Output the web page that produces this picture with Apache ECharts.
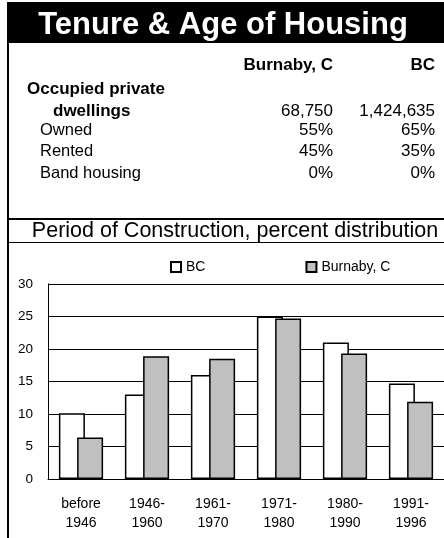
<!DOCTYPE html>
<html>
<head>
<meta charset="utf-8">
<script src="https://cdn.jsdelivr.net/npm/echarts@6/dist/echarts.min.js"></script>
<style>
html,body{margin:0;padding:0;background:#fff;}
#chart{width:444px;height:538px;}
</style>
</head>
<body>
<div id="chart"></div>
<script>
// ---- data ----
var titleText = 'Tenure & Age of Housing';
var tableHeaders = ['Burnaby, C', 'BC'];
var tableRowLabels = ['Owned', 'Rented', 'Band housing'];
var burnabyTable = ['68,750', '55%', '45%', '0%'];
var bcTable = ['1,424,635', '65%', '35%', '0%'];
var chartTitle = 'Period of Construction, percent distribution';
var categories = ['before\n1946', '1946-\n1960', '1961-\n1970', '1971-\n1980', '1980-\n1990', '1991-\n1996'];
var bcValues = [10.1, 13.0, 16.0, 25.0, 21.0, 14.7];
var burnabyValues = [6.4, 18.9, 18.5, 24.7, 19.3, 11.9];
var seriesNames = ['BC', 'Burnaby, C'];

var FONT = '"Liberation Sans", Arial, sans-serif';
var chart = echarts.init(document.getElementById('chart'));

function txt(s, x, y, size, bold, align, color) {
  return {
    type: 'text', x: x, y: y, silent: true,
    style: {
      text: s, fill: color || '#000',
      font: (bold ? 'bold ' : '') + size + 'px ' + FONT,
      textAlign: align || 'left', textVerticalAlign: 'middle'
    }
  };
}

var col1 = 333, col2 = 435;
var rowY = [111, 130, 151, 173];
var graphics = [
  { type: 'rect', shape: { x: 7, y: 2, width: 437, height: 41 }, style: { fill: '#000' }, silent: true },
  { type: 'rect', shape: { x: 7, y: 2, width: 2, height: 536 }, style: { fill: '#000' }, silent: true },
  { type: 'rect', shape: { x: 7, y: 218, width: 437, height: 2 }, style: { fill: '#000' }, silent: true },
  { type: 'rect', shape: { x: 7, y: 242, width: 437, height: 1 }, style: { fill: '#000' }, silent: true },
  txt(titleText, 223, 25, 31, true, 'center', '#fff'),
  txt(tableHeaders[0], col1, 65, 17, true, 'right'),
  txt(tableHeaders[1], col2, 65, 17, true, 'right'),
  txt('Occupied private', 27, 89, 17, true, 'left'),
  txt('dwellings', 53, rowY[0], 17, true, 'left'),
  txt(chartTitle, 235, 231, 21.5, false, 'center')
];
for (var i = 0; i < tableRowLabels.length; i++) {
  graphics.push(txt(tableRowLabels[i], 40, rowY[i + 1], 16.5, false, 'left'));
}
for (var j = 0; j < rowY.length; j++) {
  graphics.push(txt(burnabyTable[j], col1, rowY[j], 17, false, 'right'));
  graphics.push(txt(bcTable[j], col2, rowY[j], 17, false, 'right'));
}

chart.setOption({
  animation: false,
  textStyle: { fontFamily: FONT },
  graphic: graphics,
  legend: {
    left: 170, top: 260, padding: 0,
    itemWidth: 10, itemHeight: 10, itemGap: 100,
    icon: 'rect',
    textStyle: { fontSize: 14, color: '#000', fontFamily: FONT },
    data: seriesNames
  },
  grid: { left: 48, top: 284, width: 400, height: 195, containLabel: false },
  xAxis: {
    type: 'category', data: categories,
    axisLine: { lineStyle: { color: '#000', width: 1 } },
    axisTick: { show: false },
    axisLabel: { color: '#000', fontSize: 14, lineHeight: 19, margin: 16, fontFamily: FONT, interval: 0 }
  },
  yAxis: {
    type: 'value', min: 0, max: 30, interval: 5,
    axisLine: { show: true, lineStyle: { color: '#000', width: 1 } },
    axisTick: { show: false },
    axisLabel: { color: '#000', fontSize: 13.5, margin: 15, fontFamily: FONT },
    splitLine: { show: true, lineStyle: { color: '#000', width: 1 } }
  },
  series: [
    {
      name: seriesNames[0], type: 'bar', data: bcValues,
      barWidth: 26, barGap: '-30%',
      itemStyle: { color: '#ffffff', borderColor: '#000', borderWidth: 1.5 }
    },
    {
      name: seriesNames[1], type: 'bar', data: burnabyValues,
      barWidth: 26, barGap: '-30%',
      itemStyle: { color: '#c0c0c0', borderColor: '#000', borderWidth: 1.5 }
    }
  ]
});
</script>
</body>
</html>
